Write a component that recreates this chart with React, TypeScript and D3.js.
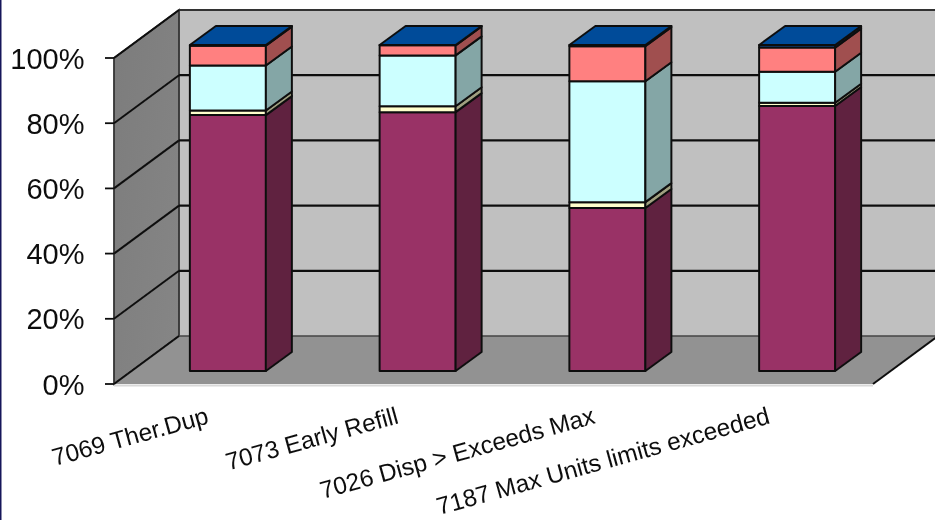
import React from "react";
import * as d3 from "d3";

const categories = ["7069 Ther.Dup", "7073 Early Refill", "7026 Disp > Exceeds Max", "7187 Max Units limits exceeded"];
const seriesKeys = ["a", "b", "c", "d", "e"];
const seriesA = [78.5, 79.4, 50.0, 81.3];
const seriesB = [1.4, 1.8, 1.8, 1.0];
const seriesC = [13.8, 15.6, 37.1, 9.5];
const seriesD = [6.1, 3.1, 10.7, 7.4];
const seriesE = [0.2, 0.1, 0.4, 0.8];
const frontColors = ["#993366", "#ffffcc", "#ccffff", "#ff8080", "#004c99"];
const sideColors = ["#602040", "#a0a080", "#84a6a6", "#a05050", "#003060"];
const yTicks = [0, 20, 40, 60, 80, 100];

const rows = categories.map((name, i) => ({
  name,
  a: seriesA[i],
  b: seriesB[i],
  c: seriesC[i],
  d: seriesD[i],
  e: seriesE[i],
}));
const stacked = d3.stack<any>().keys(seriesKeys)(rows);

const W = 935, H = 520;
const x0 = 114, x1 = 873, yBase = 384, yTop = 58;
const dx = 65, dy = -48;
const y = d3.scaleLinear().domain([0, 100]).range([yBase, yTop]);
const xBand = d3.scaleBand<string>().domain(categories).range([x0, x1]);
const barW = 76, barOffX = 19, barOffY = -13, barDx = 26, barDy = -19;
const labelShift = [0, 0, 7, -8];
const pts = (p: number[][]) => p.map((q) => q.join(",")).join(" ");

export default function App() {
  return (
    <svg width={W} height={H} viewBox={`0 0 ${W} ${H}`} style={{ position: "absolute", left: 0, top: 0, display: "block", background: "#fff" }}>
      <defs>
        <linearGradient id="lw" x1="0" y1="0" x2="1" y2="1">
          <stop offset="0" stopColor="#7c7c7c" />
          <stop offset="1" stopColor="#868686" />
        </linearGradient>
        <filter id="soft" x="-2%" y="-2%" width="104%" height="104%">
          <feGaussianBlur stdDeviation="0.5" />
        </filter>
      </defs>
      <g filter="url(#soft)">
        <rect x={0} y={0} width={1.5} height={H} fill="#14145a" />
        <rect x={x0 + dx} y={y(100) + dy} width={W - x0 - dx} height={y(0) - y(100)} fill="#c0c0c0" />
        <polygon points={pts([[x0, y(100)], [x0 + dx, y(100) + dy], [x0 + dx, y(0) + dy], [x0, y(0)]])} fill="url(#lw)" stroke="#333" strokeWidth={1.8} />
        <polygon points={pts([[x0, y(0)], [x0 + dx, y(0) + dy], [x1 + dx, y(0) + dy], [x1, y(0)]])} fill="#929292" />
        <line x1={x0 + dx} x2={W} y1={y(0) + dy} y2={y(0) + dy} stroke="#444" strokeWidth={1.6} />
        <line x1={x0 + dx} x2={W} y1={y(100) + dy} y2={y(100) + dy} stroke="#333" strokeWidth={2.2} />
        <line x1={x0} x2={x1} y1={y(0) + 1.5} y2={y(0) + 1.5} stroke="#d8d8d8" strokeWidth={2} />
        <line x1={x1} x2={x1 + dx} y1={y(0)} y2={y(0) + dy} stroke="#111" strokeWidth={2} />
        {yTicks.map((t) => (
          <g key={t}>
            {t > 0 && t < 100 && (
              <line x1={x0 + dx} x2={W} y1={y(t) + dy} y2={y(t) + dy} stroke="#111" strokeWidth={2.2} />
            )}
            <line x1={x0} x2={x0 + dx} y1={y(t)} y2={y(t) + dy} stroke="#111" strokeWidth={2} />
            <line x1={x0 - 9} x2={x0} y1={y(t)} y2={y(t)} stroke="#111" strokeWidth={1.8} />
            <text x={84.5} y={y(t) + 10.5} textAnchor="end" fontFamily="Liberation Sans" fontSize={29} fill="#111">{t}%</text>
          </g>
        ))}
        {categories.map((c) => {
          const bx = (xBand(c) as number) + (xBand.bandwidth() - barW) / 2 + barOffX;
          return (
            <g key={c} stroke="#111" strokeWidth={2} strokeLinejoin="round">
              {stacked.map((s, si) => {
                const d = s[categories.indexOf(c)];
                const yb = y(d[0]) + barOffY;
                const yt = y(d[1]) + barOffY;
                return (
                  <g key={si}>
                    <rect x={bx} y={yt} width={barW} height={yb - yt} fill={frontColors[si]} />
                    <polygon
                      points={pts([[bx + barW, yb], [bx + barW + barDx, yb + barDy], [bx + barW + barDx, yt + barDy], [bx + barW, yt]])}
                      fill={sideColors[si]}
                    />
                  </g>
                );
              })}
              <polygon
                points={pts([
                  [bx, y(100) + barOffY],
                  [bx + barDx, y(100) + barOffY + barDy],
                  [bx + barW + barDx, y(100) + barOffY + barDy],
                  [bx + barW, y(100) + barOffY],
                ])}
                fill={frontColors[4]}
              />
            </g>
          );
        })}
        {categories.map((c, i) => {
          const tx = (xBand(c) as number) + xBand.bandwidth() / 2 + 1 + labelShift[i];
          return (
            <text key={c} transform={`translate(${tx},423) rotate(-15.5)`} textAnchor="end" fontFamily="Liberation Sans" fontSize={24.4} fill="#111">{c}</text>
          );
        })}
      </g>
    </svg>
  );
}
